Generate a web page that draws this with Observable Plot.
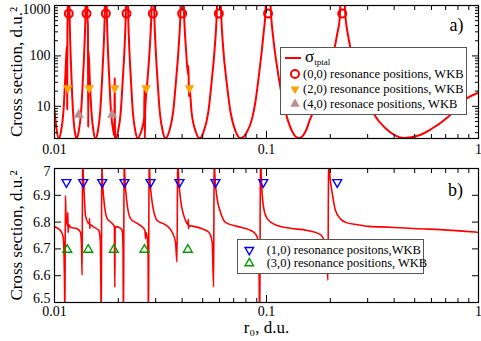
<!DOCTYPE html>
<html><head><meta charset="utf-8">
<script src="https://cdn.jsdelivr.net/npm/d3@7"></script>
<script src="https://cdn.jsdelivr.net/npm/@observablehq/plot@0.6"></script>
<style>
body{margin:0;background:#fff;}
#wrap{position:relative;width:481px;height:341px;font-family:"Liberation Serif","Times New Roman",serif;background:#fff;}
#wrap > svg{display:block;}
.legend{position:absolute;background:#fff;border:1px solid #555;box-sizing:border-box;}
.legend svg{display:block;overflow:visible;font-family:"Liberation Serif","Times New Roman",serif;font-size:12.5px;}
</style></head><body><div id="wrap"></div><script>
// ---------- data ----------
// panel a) total cross section (log scale)
const topR0 = [
 0.009785, 0.01000, 0.01048, 0.01073, 0.01102, 0.01122, 0.01140, 0.011455, 0.011479, 0.011504, 0.01153, 0.01168,
 0.011795, 0.011898, 0.012040, 0.012227, 0.012467, 0.01270,
 0.013007, 0.013350, 0.013598, 0.013819, 0.013977, 0.014161,
 0.014331, 0.014377, 0.014425, 0.014472, 0.014677, 0.014935, 0.015276, 0.015611,
 0.016006, 0.016428, 0.016753, 0.017024, 0.017230, 0.017455,
 0.017683, 0.017877, 0.018152, 0.018468, 0.018958, 0.019165, 0.019228, 0.019291, 0.019479,
 0.019928, 0.020545, 0.020971, 0.021369, 0.021650, 0.021980,
 0.022293, 0.022561, 0.022956, 0.023409, 0.024078, 0.024714,
 0.025615, 0.026490, 0.026577, 0.026663, 0.026779, 0.027424, 0.028088, 0.028580, 0.029144,
 0.029623, 0.030045, 0.030642, 0.031364, 0.032404, 0.033384,
 0.034755, 0.036300, 0.037418, 0.038410, 0.039166, 0.040027,
 0.040953, 0.041760, 0.042679, 0.042865, 0.043053, 0.043288, 0.044282, 0.046350, 0.048306,
 0.050558, 0.053207, 0.055139, 0.056843, 0.058091, 0.059565,
 0.061281, 0.062622, 0.064770, 0.067567, 0.071562, 0.075400,
 0.081090, 0.085624, 0.088744, 0.090993, 0.092989, 0.095030, 0.096800, 0.098598, 0.10164,
 0.10524, 0.10708, 0.10943, 0.11232, 0.11554, 0.11989, 0.12522, 0.13221, 0.14207,
 0.15276, 0.16127, 0.17588, 0.18977, 0.20037, 0.20933, 0.21556, 0.22172, 0.22757,
 0.23588, 0.24184, 0.24902, 0.27160, 0.29623, 0.32667, 0.36419, 0.40594, 0.44427,
 0.52120, 0.59368, 0.71408, 0.88454, 1.0
];
const topSigma = [
 20, 7.9, 2.32, 3.16, 7.9, 31.6, 126, 158, 8.7, 316, 501, 10000,
 501, 126, 31.6, 7.9, 3.16, 2.32,
 3.16, 7.9, 31.6, 126, 501, 10000,
 501, 398, 3.8, 126, 31.6, 7.9, 3.16, 2.32,
 3.16, 7.9, 31.6, 126, 501, 10000,
 501, 126, 31.6, 7.9, 3.16, 2.63, 36, 2.35, 2.32,
 3.16, 7.9, 31.6, 126, 501, 10000,
 501, 126, 31.6, 7.9, 3.16, 2.32,
 3.16, 6.0, 22, 2.3, 7.9, 31.6, 126, 501, 10000,
 501, 126, 31.6, 7.9, 3.16, 2.32,
 3.16, 7.9, 31.6, 126, 501, 10000,
 501, 126, 42, 63, 15.8, 26, 7.9, 3.16, 2.32,
 3.16, 7.9, 31.6, 126, 501, 10000,
 501, 126, 31.6, 7.9, 3.16, 2.32,
 3.16, 5.83, 12.6, 27.2, 58.3, 126, 272, 583, 10000,
 583, 272, 126, 58.3, 27.2, 12.6, 5.83, 3.16, 2.32,
 3.16, 5.83, 12.6, 31.6, 72.4, 142.6, 272, 583, 10000,
 583, 272, 142.6, 50, 15.8, 6.3, 3.68, 2.63, 2.35,
 2.63, 3.47, 6.03, 14.5, 18.6
];
const res00R0 = [0.01168, 0.01416, 0.01746, 0.02186, 0.0291, 0.0400, 0.0596, 0.1017, 0.2276];
const res00Sigma = [690, 690, 690, 690, 690, 690, 690, 690, 690];
const res20R0 = [0.01155, 0.01458, 0.01925, 0.02707, 0.04334];
const res20Sigma = [23, 23, 23, 23, 23];
const res40R0 = [0.01302, 0.01871];
const res40Sigma = [6.8, 6.8];

// panel b) cross section (linear scale)
const botR0 = [
 0.009785, 0.010000, 0.010673, 0.010991, 0.011147, 0.011196, 0.011257, 0.011318, 0.011429, 0.011516, 0.011554, 0.011591, 0.011667, 0.011898,
 0.012797, 0.013264, 0.013409, 0.013500, 0.013573, 0.013647, 0.013752, 0.014008,
 0.014519, 0.014598, 0.014630, 0.014662, 0.014725, 0.015325, 0.016181,
 0.016446, 0.016572, 0.016626, 0.016713, 0.016804, 0.017080, 0.017722,
 0.018712, 0.019164, 0.019248, 0.019331, 0.020102, 0.020859,
 0.021040, 0.021161, 0.021299, 0.021438, 0.021861, 0.022832, 0.024553,
 0.026374, 0.026720, 0.026865, 0.027011, 0.027366, 0.027634, 0.027755, 0.027936, 0.028149, 0.028893, 0.030507,
 0.033384, 0.035906, 0.037217, 0.037829, 0.038117, 0.038367, 0.039294, 0.040728, 0.042261,
 0.042585, 0.042725, 0.042864, 0.043051, 0.044621, 0.049741, 0.053437,
 0.055442, 0.056291, 0.056659, 0.057091, 0.058535, 0.060680, 0.064067, 0.072739,
 0.082508, 0.087120, 0.090397, 0.091982, 0.092987, 0.093595, 0.094304, 0.094920, 0.097110, 0.100763,
 0.11232, 0.12979, 0.15560, 0.17974, 0.18978, 0.19500, 0.19628, 0.19820, 0.20410, 0.21155,
 0.22341, 0.23588, 0.26777, 0.30375, 0.38450, 0.52289, 0.66189, 1.0
];
const botSigma = [
 6.787, 6.783, 6.769, 6.744, 6.583, 6.434, 6.899, 6.836, 6.798, 6.787, 6.836, 6.761, 6.791, 6.781,
 6.775, 6.762, 6.713, 6.602, 7.066, 6.991, 6.936, 6.824,
 6.795, 6.798, 6.813, 6.776, 6.791, 6.781, 6.769,
 6.732, 6.509, 6.398, 7.066, 6.973, 6.887, 6.813,
 6.795, 6.783, 6.557, 6.783, 6.781, 6.769,
 6.713, 6.398, 7.066, 6.984, 6.887, 6.813, 6.795,
 6.776, 6.769, 6.739, 6.761, 6.744, 6.676, 6.398, 7.066, 6.973, 6.874, 6.806,
 6.790, 6.762, 6.725, 6.651, 7.066, 6.991, 6.887, 6.824, 6.794,
 6.791, 6.810, 6.775, 6.787, 6.785, 6.775, 6.762,
 6.725, 6.558, 7.066, 6.973, 6.887, 6.837, 6.799, 6.784,
 6.772, 6.762, 6.744, 6.688, 6.398, 7.066, 6.991, 6.936, 6.850, 6.813,
 6.787, 6.777, 6.769, 6.753, 6.713, 6.583, 7.066, 6.991, 6.910, 6.843,
 6.812, 6.799, 6.790, 6.784, 6.781, 6.775, 6.772, 6.762
];
const res10R0 = [0.01139, 0.01366, 0.01679, 0.02138, 0.02838, 0.03886, 0.05745, 0.0965, 0.2156];
const res10Sigma = [6.949, 6.949, 6.949, 6.949, 6.949, 6.949, 6.949, 6.949, 6.949];
const res30R0 = [0.01148, 0.01442, 0.01904, 0.02657, 0.04255];
const res30Sigma = [6.697, 6.697, 6.697, 6.697, 6.697];

// ticks and labels
const xMajor = [0.01, 0.1, 1];
const xTickLabels = ["0.01", "0.1", "1"];
const xMinor = [0.02, 0.03, 0.04, 0.05, 0.06, 0.07, 0.08, 0.09, 0.2, 0.3, 0.4, 0.5, 0.6, 0.7, 0.8, 0.9];
const topYMajor = [10, 100, 1000];
const topYLabels = ["10", "100", "1000"];
const topYMinor = [3, 4, 5, 6, 7, 8, 9, 20, 30, 40, 50, 60, 70, 80, 90, 200, 300, 400, 500, 600, 700, 800, 900];
const botYMajor = [6.5, 6.6, 6.7, 6.8, 6.9, 7];
const botYLabels = ["6.5", "6.6", "6.7", "6.8", "6.9", "7"];
const yTitle = "Cross section, d.u.\u00B2";
const xTitle = "r\u2080, d.u.";
const topLegendLabels = ["(0,0) resonance positions, WKB", "(2,0) resonance positions, WKB", "(4,0) resonace positions, WKB"];
const botLegendLabels = ["(1,0) resonance positons,WKB", "(3,0) resonance positions, WKB"];

// ---------- drawing ----------
const FONT = '"Liberation Serif","Times New Roman",serif';
const zip = (xs, ys) => xs.map((x, i) => ({x, y: ys[i]}));

function edgeTicks(xs, ys, size) {
  const blank = () => "";
  return [
    Plot.axisX({ticks: xs, anchor: "bottom", tickSize: size, dy: -size, tickFormat: blank, label: null}),
    Plot.axisX({ticks: xs, anchor: "top", tickSize: size, dy: size, tickFormat: blank, label: null}),
    Plot.axisY({ticks: ys, anchor: "left", tickSize: size, dx: size, tickFormat: blank, label: null}),
    Plot.axisY({ticks: ys, anchor: "right", tickSize: size, dx: -size, tickFormat: blank, label: null})
  ];
}
// y tick labels; the end labels are nudged inwards as in the reference
function yLabels(ticks, labels, shifts) {
  return ticks.map((t, i) => Plot.axisY({ticks: [t], anchor: "left", tickSize: 0, tickPadding: 4, dy: shifts[i],
    tickFormat: () => labels[i], label: null}));
}
const titleY = () => Plot.text([yTitle], {text: d => d, frameAnchor: "left", dx: -38, rotate: -90, fontSize: 17, textAnchor: "middle", lineAnchor: "middle"});

const topPlot = Plot.plot({
  width: 481, height: 160,
  marginLeft: 54, marginRight: 3, marginTop: 5, marginBottom: 22,
  style: {fontFamily: FONT, fontSize: "14px", background: "white", color: "black"},
  x: {type: "log", domain: [0.01, 1]},
  y: {type: "log", domain: [2.3, 1000]},
  marks: [
    Plot.line(zip(topR0, topSigma), {x: "x", y: "y", stroke: "#ff0000", strokeWidth: 2, curve: "monotone-x", clip: true}),
    Plot.dot(zip(res00R0, res00Sigma), {x: "x", y: "y", r: 4, stroke: "#ff0000", strokeWidth: 2, fill: "none"}),
    Plot.dot(zip(res20R0, res20Sigma), {x: "x", y: "y", r: 3.6, symbol: "triangle", rotate: 180, fill: "#ffa500", stroke: "none"}),
    Plot.dot(zip(res40R0, res40Sigma), {x: "x", y: "y", r: 3.8, symbol: "triangle", fill: "#bc8f8f", stroke: "none"}),
    Plot.frame({stroke: "black", strokeWidth: 1.2}),
    ...edgeTicks(xMajor, topYMajor, 7),
    ...edgeTicks(xMinor, topYMinor, 4),
    Plot.axisX({ticks: xMajor, anchor: "bottom", tickSize: 0, tickPadding: 6, tickFormat: d => xTickLabels[xMajor.indexOf(d)], label: null}),
    ...yLabels(topYMajor, topYLabels, [0, 0, 4]),
    titleY(),
    Plot.text(["a)"], {text: d => d, frameAnchor: "top-right", dx: -22, dy: 20, fontSize: 18, textAnchor: "middle", lineAnchor: "middle"})
  ]
});

const botPlot = Plot.plot({
  width: 481, height: 181,
  marginLeft: 54, marginRight: 3, marginTop: 8, marginBottom: 39,
  style: {fontFamily: FONT, fontSize: "14px", background: "white", color: "black"},
  x: {type: "log", domain: [0.01, 1]},
  y: {type: "linear", domain: [6.5, 7]},
  marks: [
    Plot.line(zip(botR0, botSigma), {x: "x", y: "y", stroke: "#ff0000", strokeWidth: 1.6, curve: "monotone-x", clip: true}),
    Plot.dot(zip(res10R0, res10Sigma), {x: "x", y: "y", r: 3.3, symbol: "triangle", rotate: 180, fill: "none", stroke: "#0000ff", strokeWidth: 1.4}),
    Plot.dot(zip(res30R0, res30Sigma), {x: "x", y: "y", r: 3.3, symbol: "triangle", fill: "none", stroke: "#009900", strokeWidth: 1.4}),
    Plot.frame({stroke: "black", strokeWidth: 1.2}),
    ...edgeTicks(xMajor, botYMajor, 7),
    ...edgeTicks(xMinor, [], 4),
    Plot.axisX({ticks: xMajor, anchor: "bottom", tickSize: 0, tickPadding: 4, tickFormat: d => xTickLabels[xMajor.indexOf(d)], label: null}),
    ...yLabels(botYMajor, botYLabels, [-4, 0, 0, 0, 0, 3]),
    titleY(),
    Plot.text([xTitle], {text: d => d, frameAnchor: "bottom", dy: 25, fontSize: 17, textAnchor: "middle", lineAnchor: "middle"}),
    Plot.text(["b)"], {text: d => d, frameAnchor: "top-right", dx: -23, dy: 22, fontSize: 18, textAnchor: "middle", lineAnchor: "middle"})
  ]
});

const wrap = document.getElementById("wrap");
wrap.appendChild(topPlot);
wrap.appendChild(botPlot);

// legends
function tri(cx, cy, down, s) {
  const h = s * 0.866;
  return down
    ? `${cx - s/2},${cy - h/3} ${cx + s/2},${cy - h/3} ${cx},${cy + 2*h/3}`
    : `${cx - s/2},${cy + h/3} ${cx + s/2},${cy + h/3} ${cx},${cy - 2*h/3}`;
}
const legTop = document.createElement("div");
legTop.className = "legend";
legTop.style.cssText = "left:280px;top:47px;width:187px;height:68px;";
legTop.innerHTML = `<svg width="185" height="66">
 <line x1="4" y1="10" x2="20" y2="10" stroke="#ff0000" stroke-width="2"/>
 <text x="24" y="14" font-size="17">\u03C3<tspan font-size="9" dy="2.5">tptal</tspan></text>
 <circle cx="14" cy="26" r="4" fill="none" stroke="#ff0000" stroke-width="2"/>
 <text x="22" y="26" dominant-baseline="central">${topLegendLabels[0]}</text>
 <polygon points="${tri(14, 41, true, 9)}" fill="#ffa500"/>
 <text x="22" y="41" dominant-baseline="central">${topLegendLabels[1]}</text>
 <polygon points="${tri(14, 56, false, 9.5)}" fill="#bc8f8f"/>
 <text x="22" y="56" dominant-baseline="central">${topLegendLabels[2]}</text>
</svg>`;
wrap.appendChild(legTop);

const legBot = document.createElement("div");
legBot.className = "legend";
legBot.style.cssText = "left:237px;top:239px;width:187px;height:35px;";
legBot.innerHTML = `<svg width="185" height="33">
 <polygon points="${tri(11.3, 10, true, 8.5)}" fill="none" stroke="#0000ff" stroke-width="1.4"/>
 <text x="28.7" y="10" dominant-baseline="central">${botLegendLabels[0]}</text>
 <polygon points="${tri(11.3, 23.3, false, 8.5)}" fill="none" stroke="#009900" stroke-width="1.4"/>
 <text x="28.7" y="23.3" dominant-baseline="central">${botLegendLabels[1]}</text>
</svg>`;
wrap.appendChild(legBot);
</script></body></html>
